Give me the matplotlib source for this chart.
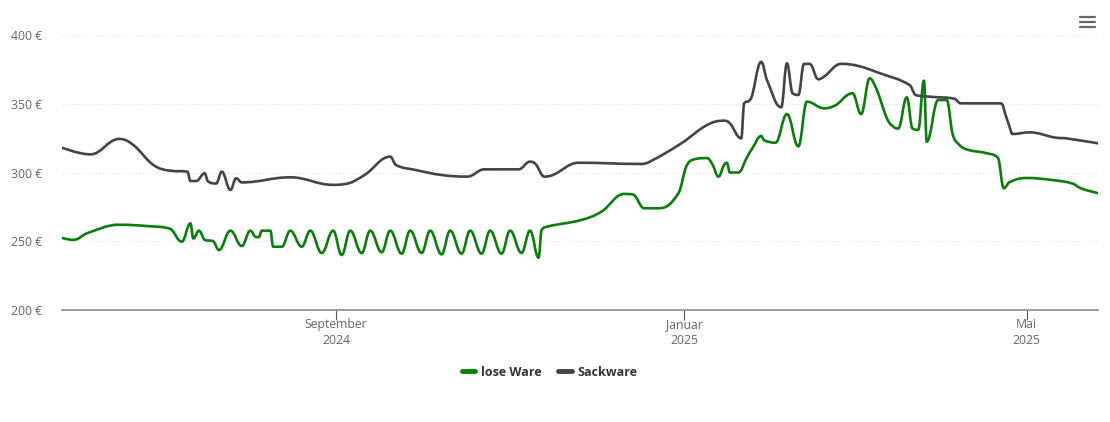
#!/usr/bin/env python3
"""Preisverlauf lose Ware / Sackware als Highcharts-artiger Spline."""
import numpy as np
import matplotlib
matplotlib.use("Agg")
import matplotlib.pyplot as plt
import matplotlib.dates as mdates
from matplotlib.path import Path
from matplotlib.patches import PathPatch
from matplotlib.lines import Line2D

plt.rcParams['font.family'] = ['Open Sans', 'DejaVu Sans']

# lose Ware (green)
lose_dates = [
    '2024-05-27', '2024-06-01', '2024-06-06', '2024-06-17', '2024-06-27', '2024-07-05',
    '2024-07-09', '2024-07-12', '2024-07-13', '2024-07-15', '2024-07-17', '2024-07-20',
    '2024-07-22', '2024-07-26', '2024-07-30', '2024-08-02', '2024-08-04', '2024-08-05',
    '2024-08-06', '2024-08-09', '2024-08-10', '2024-08-13', '2024-08-16', '2024-08-20',
    '2024-08-23', '2024-08-27', '2024-08-31', '2024-09-03', '2024-09-06', '2024-09-10',
    '2024-09-13', '2024-09-17', '2024-09-20', '2024-09-24', '2024-09-27', '2024-10-01',
    '2024-10-04', '2024-10-08', '2024-10-11', '2024-10-15', '2024-10-18', '2024-10-22',
    '2024-10-25', '2024-10-29', '2024-11-01', '2024-11-05', '2024-11-08', '2024-11-11',
    '2024-11-12', '2024-11-14', '2024-11-26', '2024-12-03', '2024-12-11', '2024-12-14',
    '2024-12-18', '2024-12-23', '2024-12-30', '2025-01-02', '2025-01-05', '2025-01-09',
    '2025-01-11', '2025-01-13', '2025-01-15', '2025-01-16', '2025-01-17', '2025-01-20',
    '2025-01-23', '2025-01-25', '2025-01-28', '2025-01-29', '2025-02-02', '2025-02-06',
    '2025-02-10', '2025-02-13', '2025-02-19', '2025-02-22', '2025-03-01', '2025-03-04',
    '2025-03-07', '2025-03-09', '2025-03-15', '2025-03-17', '2025-03-20', '2025-03-22',
    '2025-03-24', '2025-03-26', '2025-03-27', '2025-03-31', '2025-04-03', '2025-04-05',
    '2025-04-07', '2025-04-10', '2025-04-17', '2025-04-21', '2025-04-23', '2025-04-25',
    '2025-05-01', '2025-05-10', '2025-05-17', '2025-05-20', '2025-05-26',
]
lose_prices = [
    253, 251, 256, 262, 261, 259,
    249.7, 263, 252, 257.7, 251, 250,
    243.6, 257.7, 246.5, 257.7, 253, 253,
    257.7, 257.7, 246, 246, 257.7, 246,
    257.7, 241.4, 257.7, 240, 257.7, 241.4,
    257.7, 242, 257.7, 241, 257.7, 241.5,
    257.7, 240.5, 257.7, 241, 257.7, 241,
    257.7, 241, 257.7, 241.5, 257.7, 238,
    258, 260.6, 265.5, 271.5, 284.4, 284,
    274, 274, 285, 305.5, 309.8, 310.5,
    305.5, 297, 305.5, 307, 300, 300,
    311, 318, 326.5, 323.5, 321.7, 342.5,
    319, 351.5, 346.7, 348, 357.6, 342.5,
    368.5, 362.4, 334, 332, 354.7, 332,
    331, 366.8, 322.4, 352.7, 352.7, 328.5,
    321, 316.8, 314, 310.5, 288.5, 293,
    296, 294.5, 292, 288.5, 285,
]

# Sackware (dark grey)
sack_dates = [
    '2024-05-27', '2024-06-07', '2024-06-17', '2024-06-22', '2024-06-29', '2024-07-05',
    '2024-07-11', '2024-07-12', '2024-07-14', '2024-07-17', '2024-07-18', '2024-07-21',
    '2024-07-23', '2024-07-26', '2024-07-28', '2024-07-30', '2024-08-16', '2024-08-31',
    '2024-09-04', '2024-09-11', '2024-09-20', '2024-09-22', '2024-09-29', '2024-10-08',
    '2024-10-17', '2024-10-23', '2024-11-04', '2024-11-08', '2024-11-10', '2024-11-13',
    '2024-11-16', '2024-11-25', '2024-12-17', '2024-12-20', '2024-12-31', '2025-01-09',
    '2025-01-15', '2025-01-17', '2025-01-21', '2025-01-22', '2025-01-24', '2025-01-28',
    '2025-01-30', '2025-02-04', '2025-02-06', '2025-02-08', '2025-02-10', '2025-02-12',
    '2025-02-14', '2025-02-17', '2025-02-19', '2025-02-25', '2025-03-03', '2025-03-10',
    '2025-03-21', '2025-03-23', '2025-03-29', '2025-04-06', '2025-04-08', '2025-04-22',
    '2025-04-24', '2025-04-25', '2025-04-26', '2025-05-02', '2025-05-11', '2025-05-15',
    '2025-05-26',
]
sack_prices = [
    318.8, 313.2, 324.4, 320, 305.5, 301.3,
    300.6, 293.8, 293.8, 299.4, 293.8, 292,
    300.6, 287.3, 295.8, 292.8, 296.5, 291,
    291.6, 298.2, 311.5, 305.5, 301.8, 298.2,
    297, 302.3, 302.3, 307.9, 306, 297,
    298.2, 307.1, 306.2, 307.9, 321.2, 334.5,
    337.7, 335.8, 324.8, 350.3, 352.7, 380.5,
    367.3, 347.4, 379.4, 357.6, 356.4, 379,
    379, 367.8, 369.7, 379, 377.5, 372.6,
    363.6, 356.4, 355, 353.5, 350.3, 350.3,
    339.4, 333.3, 328, 329.2, 325.4, 324.8,
    321.2,
]

month_ticks = ['2024-09-01', '2025-01-01', '2025-05-01']
month_labels = ['September\n2024', 'Januar\n2025', 'Mai\n2025']
y_ticks = [200, 250, 300, 350, 400]


def spline_path(x, y, smoothing=1.5):
    """Cubic Bezier path with the same control points as a Highcharts spline."""
    denom = smoothing + 1
    n = len(x)
    lc = np.zeros((n, 2))
    rc = np.zeros((n, 2))
    for i in range(n):
        px, py = x[i], y[i]
        if i == 0 or i == n - 1:
            lc[i] = rc[i] = (px, py)
            continue
        lx, ly = x[i - 1], y[i - 1]
        nx, ny = x[i + 1], y[i + 1]
        lcx = (smoothing * px + lx) / denom
        lcy = (smoothing * py + ly) / denom
        rcx = (smoothing * px + nx) / denom
        rcy = (smoothing * py + ny) / denom
        if rcx != lcx:
            corr = (rcy - lcy) * (rcx - px) / (rcx - lcx) + py - rcy
            lcy += corr
            rcy += corr
        if lcy > ly and lcy > py:
            lcy = max(ly, py)
            rcy = 2 * py - lcy
        elif lcy < ly and lcy < py:
            lcy = min(ly, py)
            rcy = 2 * py - lcy
        if rcy > ny and rcy > py:
            rcy = max(ny, py)
            lcy = 2 * py - rcy
        elif rcy < ny and rcy < py:
            rcy = min(ny, py)
            lcy = 2 * py - rcy
        lc[i] = (lcx, lcy)
        rc[i] = (rcx, rcy)
    verts = [(x[0], y[0])]
    codes = [Path.MOVETO]
    for i in range(1, n):
        verts += [tuple(rc[i - 1]), tuple(lc[i]), (x[i], y[i])]
        codes += [Path.CURVE4] * 3
    return Path(verts, codes)


fig = plt.figure(figsize=(11.1, 4.22), dpi=100)
ax = fig.add_axes([62 / 1110, 1 - 310 / 422, (1098 - 62) / 1110, 275 / 422])

series = [
    ('lose Ware', lose_dates, lose_prices, '#0b7d0b'),
    ('Sackware', sack_dates, sack_prices, '#434348'),
]
handles = []
for name, dates, prices, color in series:
    xs = mdates.date2num(np.array(dates, dtype='datetime64[D]'))
    ax.add_patch(PathPatch(spline_path(xs, np.array(prices, float)), fill=False,
                           edgecolor=color, lw=1.9, capstyle='round', joinstyle='round'))
    handles.append(Line2D([], [], color=color, lw=3.5, solid_capstyle='round'))

ax.set_xlim(mdates.date2num(np.datetime64('2024-05-28')),
            mdates.date2num(np.datetime64('2025-05-26')))
ax.set_ylim(200, 400)

ax.set_yticks(y_ticks)
ax.set_yticklabels([f'{v} €' for v in y_ticks])
ax.set_xticks(mdates.date2num(np.array(month_ticks, dtype='datetime64[D]')))
ax.set_xticklabels(month_labels, linespacing=1.25)
ax.tick_params(axis='y', length=0, pad=14, labelsize=8.8, labelcolor='#666666')
ax.tick_params(axis='x', length=7, width=0.8, color='#555555', pad=-1,
               labelsize=8.8, labelcolor='#666666')

ax.grid(axis='y', color='#e0e0e0', lw=0.8, ls=(0, (1, 2)))
ax.set_axisbelow(True)
for side in ('top', 'right', 'left'):
    ax.spines[side].set_visible(False)
ax.spines['bottom'].set_color('#8c8c8c')
ax.spines['bottom'].set_linewidth(1.2)

leg = fig.legend(handles, [s[0] for s in series], loc='center', ncol=2,
                 bbox_to_anchor=(0.495, 1 - 372 / 422), frameon=False,
                 handlelength=1.1, handletextpad=0.45, columnspacing=1.3,
                 prop={'size': 9, 'weight': 'bold'})
for t in leg.get_texts():
    t.set_color('#333333')

# export menu icon
for yy in (17, 22, 27):
    fig.add_artist(Line2D([1080 / 1110, 1095 / 1110], [1 - yy / 422] * 2,
                          color='#666666', lw=1.6, solid_capstyle='round'))

fig.savefig('out.png', dpi=100)
